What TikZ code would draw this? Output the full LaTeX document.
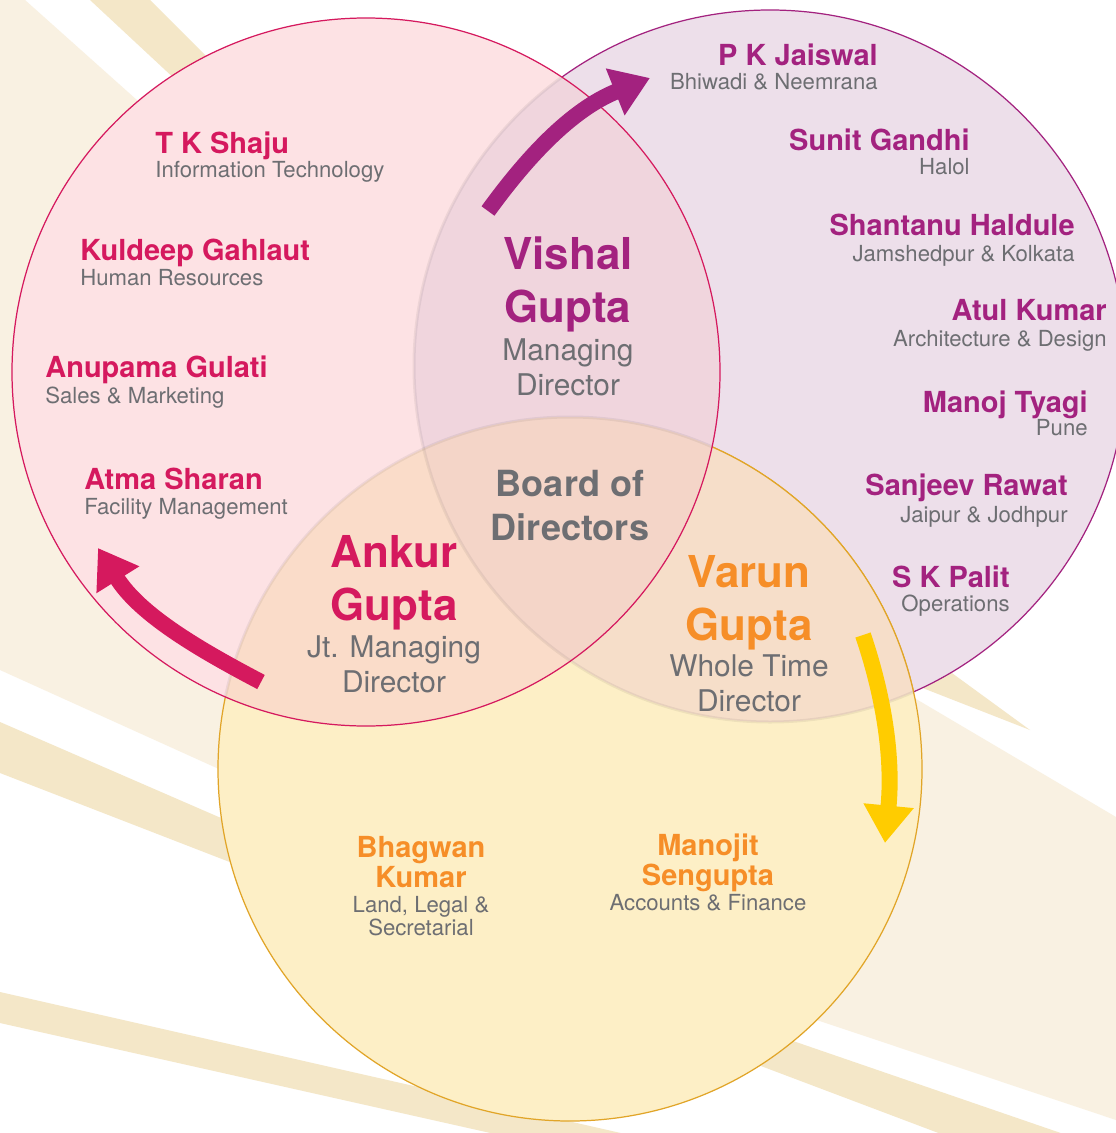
\documentclass[tikz,border=0pt]{standalone}
\usepackage{fontspec}
\setmainfont{TeX Gyre Heros}
\usetikzlibrary{arrows.meta}

\definecolor{bgcream}{RGB}{249,241,226}
\definecolor{bgtan}{RGB}{244,231,200}
\definecolor{pinkfill}{RGB}{253,226,228}
\definecolor{mauvefill}{RGB}{237,223,234}
\definecolor{sunfill}{RGB}{253,239,198}
\definecolor{pinkmauve}{RGB}{240,213,221}
\definecolor{pinksun}{RGB}{250,220,201}
\definecolor{mauvesun}{RGB}{246,222,201}
\definecolor{allthree}{RGB}{244,213,200}
\definecolor{crimson}{RGB}{213,25,94}
\definecolor{plum}{RGB}{163,34,127}
\definecolor{amber}{RGB}{246,142,40}
\definecolor{gold}{RGB}{225,165,40}
\definecolor{arrowgold}{RGB}{255,204,0}
\definecolor{slate}{RGB}{109,110,114}

\begin{document}
\begin{tikzpicture}[
    x=0.2mm, y=-0.2mm,
    ring/.style={line width=0.7pt},
    seam/.style={line width=0.6mm, draw=black, opacity=0.06},
    bentarrow/.style={line width=3.2mm, -{Triangle[length=7.5mm, width=9.6mm]}},
    staffname/.style={font=\fontsize{16.5}{19}\selectfont\bfseries, inner sep=0pt},
    staffrole/.style={font=\fontsize{12.6}{12.6}\selectfont, text=slate, inner sep=0pt, align=center},
    chiefname/.style={font=\fontsize{25}{29.6}\selectfont\bfseries, align=center, inner sep=0pt, anchor=base},
    chiefrole/.style={font=\fontsize{17}{19.5}\selectfont, text=slate, align=center, inner sep=0pt, anchor=base},
  ]

  \path[use as bounding box] (0,0) rectangle (1116,1133);
  \clip (0,0) rectangle (1116,1133);
  \fill[white] (0,0) rectangle (1116,1133);

  % background rays
  \fill[bgcream] (0,0) -- (25,0) -- (260,210) -- (420,860) -- (0,670) -- cycle;
  \fill[bgcream] (850,660) -- (1116,817) -- (1116,1120) -- (700,981) -- cycle;
  \fill[bgtan] (90,0) -- (150,0) -- (300,150) -- (250,149) -- cycle;
  \fill[bgtan] (0,722) -- (320,861) -- (320,897) -- (0,773) -- cycle;
  \fill[bgtan] (0,992) -- (700,1151) -- (700,1180) -- (0,1023) -- cycle;
  \fill[bgtan] (700,1009) -- (1116,1152) -- (1116,1200) -- (700,1043) -- cycle;
  \fill[bgtan] (915,685) -- (945,668) -- (1030,730) -- cycle;

  \coordinate (cpink) at (366,372);
  \coordinate (cmauve) at (770,366);
  \coordinate (csun) at (570,769);

  % plants circle, then the bottom circle over it
  \fill[mauvefill] (cmauve) circle[radius=356];
  \draw[ring, plum] (cmauve) circle[radius=356];
  \fill[sunfill] (csun) circle[radius=352];
  \draw[ring, gold] (csun) circle[radius=352];
  \begin{scope}
    \clip (cmauve) circle[radius=356];
    \fill[mauvesun] (csun) circle[radius=352];
    \draw[ring, gold] (csun) circle[radius=352];
  \end{scope}
  \begin{scope}
    \clip (csun) circle[radius=352];
    \draw[seam] (cmauve) circle[radius=356];
  \end{scope}

  % functions circle on top
  \fill[pinkfill] (cpink) circle[radius=354];
  \begin{scope}
    \clip (cpink) circle[radius=354];
    \fill[pinkmauve] (cmauve) circle[radius=356];
    \fill[pinksun] (csun) circle[radius=352];
    \begin{scope}
      \clip (cmauve) circle[radius=356];
      \fill[allthree] (csun) circle[radius=352];
    \end{scope}
    \draw[seam] (cmauve) circle[radius=356];
    \draw[seam] (csun) circle[radius=352];
  \end{scope}
  \draw[ring, crimson] (cpink) circle[radius=354];

  % curved arrows
  \coordinate (vtail) at (488,211);
  \coordinate (vtip) at (650,78);
  \coordinate (atail) at (261,682);
  \coordinate (atip) at (98,548);
  \coordinate (wtail) at (863,635);
  \coordinate (wtip) at (885,843);
  \draw[bentarrow, plum] (vtail) .. controls (525,160) and (570,110) .. (vtip);
  \draw[bentarrow, crimson] (atail) .. controls (200,650) and (140,615) .. (atip);
  \draw[bentarrow, arrowgold] (wtail) .. controls (885,700) and (893,760) .. (wtip);

  % directors (base sits on the last line)
  \node[chiefname, text=plum] (vishal) at (568,322) {Vishal\\Gupta};
  \node[chiefrole] (vishal-role) at (568,395) {Managing\\Director};
  \node[chiefname, text=crimson] (ankur) at (394,620) {Ankur\\Gupta};
  \node[chiefrole] (ankur-role) at (394,692) {Jt. Managing\\Director};
  \node[chiefname, text=amber] (varun) at (749,640) {Varun\\Gupta};
  \node[chiefrole] (varun-role) at (749,711) {Whole Time\\Director};
  \node[font=\fontsize{20.5}{24.5}\selectfont\bfseries, text=slate, align=center,
        inner sep=0pt, anchor=base] (board) at (570,540) {Board of\\Directors};

  % functions
  \node[staffname, text=crimson, anchor=base west] (shaju) at (155,153) {T K Shaju};
  \node[staffrole, anchor=base west] (shaju-role) at (155,177) {Information Technology};
  \node[staffname, text=crimson, anchor=base west] (kuldeep) at (80,260) {Kuldeep Gahlaut};
  \node[staffrole, anchor=base west] (kuldeep-role) at (80,285) {Human Resources};
  \node[staffname, text=crimson, anchor=base west] (anupama) at (45,377) {Anupama Gulati};
  \node[staffrole, anchor=base west] (anupama-role) at (45,403) {Sales \& Marketing};
  \node[staffname, text=crimson, anchor=base west] (atma) at (84,489) {Atma Sharan};
  \node[staffrole, anchor=base west] (atma-role) at (84,514) {Facility Management};

  % plants
  \node[staffname, text=plum, anchor=base east] (jaiswal) at (878,65) {P K Jaiswal};
  \node[staffrole, anchor=base east] (jaiswal-role) at (878,89) {Bhiwadi \& Neemrana};
  \node[staffname, text=plum, anchor=base east] (sunit) at (970,150) {Sunit Gandhi};
  \node[staffrole, anchor=base east] (sunit-role) at (970,174) {Halol};
  \node[staffname, text=plum, anchor=base east] (shantanu) at (1075,235) {Shantanu Haldule};
  \node[staffrole, anchor=base east] (shantanu-role) at (1075,261) {Jamshedpur \& Kolkata};
  \node[staffname, text=plum, anchor=base east] (atul) at (1107,320) {Atul Kumar};
  \node[staffrole, anchor=base east] (atul-role) at (1107,346) {Architecture \& Design};
  \node[staffname, text=plum, anchor=base east] (manoj) at (1088,412) {Manoj Tyagi};
  \node[staffrole, anchor=base east] (manoj-role) at (1088,435) {Pune};
  \node[staffname, text=plum, anchor=base east] (sanjeev) at (1068,495) {Sanjeev Rawat};
  \node[staffrole, anchor=base east] (sanjeev-role) at (1068,522) {Jaipur \& Jodhpur};
  \node[staffname, text=plum, anchor=base east] (palit) at (1010,587) {S K Palit};
  \node[staffrole, anchor=base east] (palit-role) at (1010,611) {Operations};

  % corporate
  \node[staffname, text=amber, align=center, anchor=base,
        font=\fontsize{16.5}{17}\selectfont\bfseries] (bhagwan) at (421,887) {Bhagwan\\Kumar};
  \node[staffrole, anchor=base] (bhagwan-role) at (421,935) {Land, Legal \&\\Secretarial};
  \node[staffname, text=amber, align=center, anchor=base,
        font=\fontsize{16.5}{17}\selectfont\bfseries] (manojit) at (708,885) {Manojit\\Sengupta};
  \node[staffrole, anchor=base] (manojit-role) at (708,910) {Accounts \& Finance};
\end{tikzpicture}
\end{document}
